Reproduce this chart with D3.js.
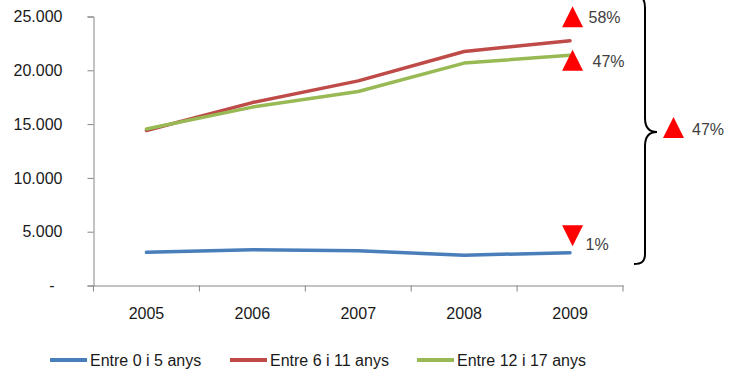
<!DOCTYPE html>
<html>
<head>
<meta charset="utf-8">
<script src="https://cdn.jsdelivr.net/npm/d3@7/dist/d3.min.js"></script>
<style>
  html, body { margin: 0; padding: 0; background: #fff; }
  svg { display: block; font-family: "Liberation Sans", Arial, sans-serif; }
</style>
</head>
<body>
<svg id="chart" width="739" height="372"></svg>
<script>
// Population by age group, 2005–2009
const years = ["2005", "2006", "2007", "2008", "2009"];
const seriesNames = ["Entre 0 i 5 anys", "Entre 6 i 11 anys", "Entre 12 i 17 anys"];
const age0to5 = [3080, 3320, 3220, 2820, 3050];
const age6to11 = [14400, 17000, 19020, 21750, 22750];
const age12to17 = [14550, 16580, 18030, 20670, 21400];
const yTicks = [0, 5000, 10000, 15000, 20000, 25000];
const colors = ["#4a7ebb", "#be4b48", "#98b954"];

const series = [age0to5, age6to11, age12to17].map((values, i) => ({
  name: seriesNames[i], values, color: colors[i]
}));

const svg = d3.select("#chart");

const x = d3.scaleBand().domain(years).range([93.5, 623]);
const y = d3.scaleLinear().domain([0, 25000]).range([285.5, 16.5]);

const axisColor = "#868686";
const textColor = "#1a1a1a";
const fmt = v => v === 0 ? "-" : d3.format(",")(v).replace(/,/g, ".");

// Y axis
const yAxis = svg.append("g").attr("transform", "translate(93.5,0)")
  .call(d3.axisLeft(y).tickValues(yTicks).tickFormat(fmt).tickSize(6).tickPadding(25));
yAxis.select(".domain").attr("stroke", axisColor);
yAxis.selectAll(".tick line").attr("stroke", axisColor);
yAxis.selectAll(".tick text")
  .attr("fill", textColor).style("font-size", "16px").attr("font-family", null)
  .attr("dx", d => d === 0 ? -8 : 0);

// X axis
const xAxis = svg.append("g").attr("transform", "translate(0,285.5)")
  .call(d3.axisBottom(x).tickSize(0).tickPadding(22));
xAxis.select(".domain").attr("stroke", axisColor);
xAxis.selectAll(".tick text")
  .attr("fill", textColor).style("font-size", "16px").attr("font-family", null);
// tick marks at category boundaries
const bounds = years.map(d => x(d)).concat([x.range()[1]]);
xAxis.selectAll(".bound").data(bounds).enter().append("line")
  .attr("class", "bound")
  .attr("x1", d => d).attr("x2", d => d)
  .attr("y1", 0).attr("y2", 6)
  .attr("stroke", axisColor);

// Lines
const line = d3.line()
  .x((d, i) => x(years[i]) + x.bandwidth() / 2)
  .y(d => y(d));

svg.append("g").selectAll("path").data(series).enter().append("path")
  .attr("d", d => line(d.values))
  .attr("fill", "none")
  .attr("stroke", d => d.color)
  .attr("stroke-width", 3.5)
  .attr("stroke-linejoin", "round")
  .attr("stroke-linecap", "round");

// Change markers 2005 → 2009
const change = vals => vals[vals.length - 1] / vals[0] - 1;
const pct = v => Math.round(Math.abs(v) * 100) + "%";
const tri = (cx, cy, up, s) => up
  ? `M${cx},${cy - s / 2}L${cx + s / 2},${cy + s / 2}L${cx - s / 2},${cy + s / 2}Z`
  : `M${cx - s / 2},${cy - s / 2}L${cx + s / 2},${cy - s / 2}L${cx},${cy + s / 2}Z`;

const lastX = x(years[4]) + x.bandwidth() / 2 + 2.5;
const markers = [
  { s: series[1], cy: y(age6to11[4]) - 24, dx: 16, dy: 6 },
  { s: series[2], cy: y(age12to17[4]) + 5, dx: 20, dy: 7 },
  { s: series[0], cy: y(age0to5[4]) - 17, dx: 13, dy: 14 }
];
const mg = svg.append("g");
markers.forEach(m => {
  const c = change(m.s.values);
  mg.append("path").attr("d", tri(lastX, m.cy, c >= 0, 21)).attr("fill", "#ff0000");
  mg.append("text").attr("x", lastX + m.dx).attr("y", m.cy + m.dy)
    .attr("fill", "#404040").style("font-size", "16px")
    .text(pct(c));
});

// Brace around the three series and total change
const brace = svg.append("path")
  .attr("d", "M635,-4 C643,-4 645,0 645,8 L645,118 C645,128 649,132 657,132 C649,132 645,136 645,146 L645,254 C645,262 641,264 634,264")
  .attr("fill", "none").attr("stroke", "#000").attr("stroke-width", 2);

const first = d3.sum(series, s => s.values[0]);
const last = d3.sum(series, s => s.values[4]);
const total = last / first - 1;
svg.append("path").attr("d", tri(673.5, 127.5, total >= 0, 21)).attr("fill", "#ff0000");
svg.append("text").attr("x", 692).attr("y", 135)
  .attr("fill", "#404040").style("font-size", "16px").text(pct(total));

// Legend
const legendPos = [50, 230, 417];
const lg = svg.append("g").selectAll("g").data(series).enter().append("g")
  .attr("transform", (d, i) => `translate(${legendPos[i]},360)`);
lg.append("line").attr("x1", 0).attr("x2", 37).attr("y1", 0).attr("y2", 0)
  .attr("stroke", d => d.color).attr("stroke-width", 4);
lg.append("text").attr("x", 40).attr("y", 6)
  .attr("fill", textColor).style("font-size", "16px").text(d => d.name);
</script>
</body>
</html>
